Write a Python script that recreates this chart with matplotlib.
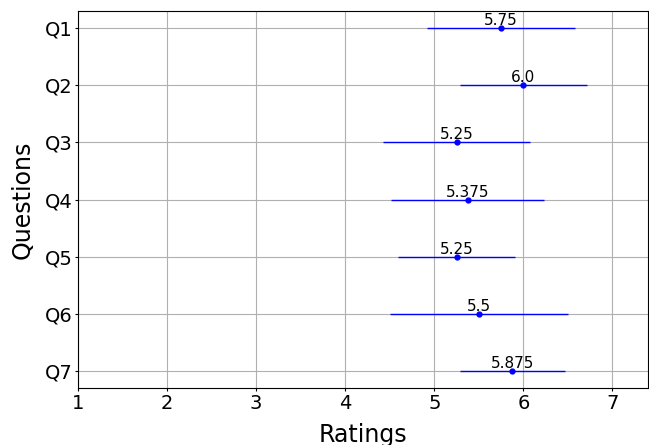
import matplotlib
matplotlib.use("Agg")
from matplotlib import pyplot as plt

questions = ["Q1", "Q2", "Q3", "Q4", "Q5", "Q6", "Q7"]
means = [5.75, 6.0, 5.25, 5.375, 5.25, 5.5, 5.875]
stds = [0.83, 0.71, 0.83, 0.86, 0.66, 1.0, 0.59]

fig = plt.figure(figsize=(6.49, 4.45), dpi=100)
axis = fig.add_subplot(1, 1, 1)

y_pos = list(range(len(questions)))
axis.errorbar(means, y_pos, xerr=stds, fmt="o", color="blue",
              markersize=3.5, elinewidth=1, capsize=0)
for mean, y_val in zip(means, y_pos):
    axis.text(mean, y_val, str(mean), ha="center", va="bottom", fontsize=11)

axis.set_yticks(y_pos)
axis.set_yticklabels(questions)
axis.invert_yaxis()
axis.set_xlim(1, 7.4)
axis.tick_params(labelsize=14, length=2, pad=2)
axis.set_xlabel("Ratings", fontsize=17, labelpad=7.5)
axis.set_ylabel("Questions", fontsize=17, labelpad=7)
axis.grid(True)

fig.subplots_adjust(left=0.1202, right=0.9985, top=0.9753, bottom=0.128)
fig.savefig("out.png")
